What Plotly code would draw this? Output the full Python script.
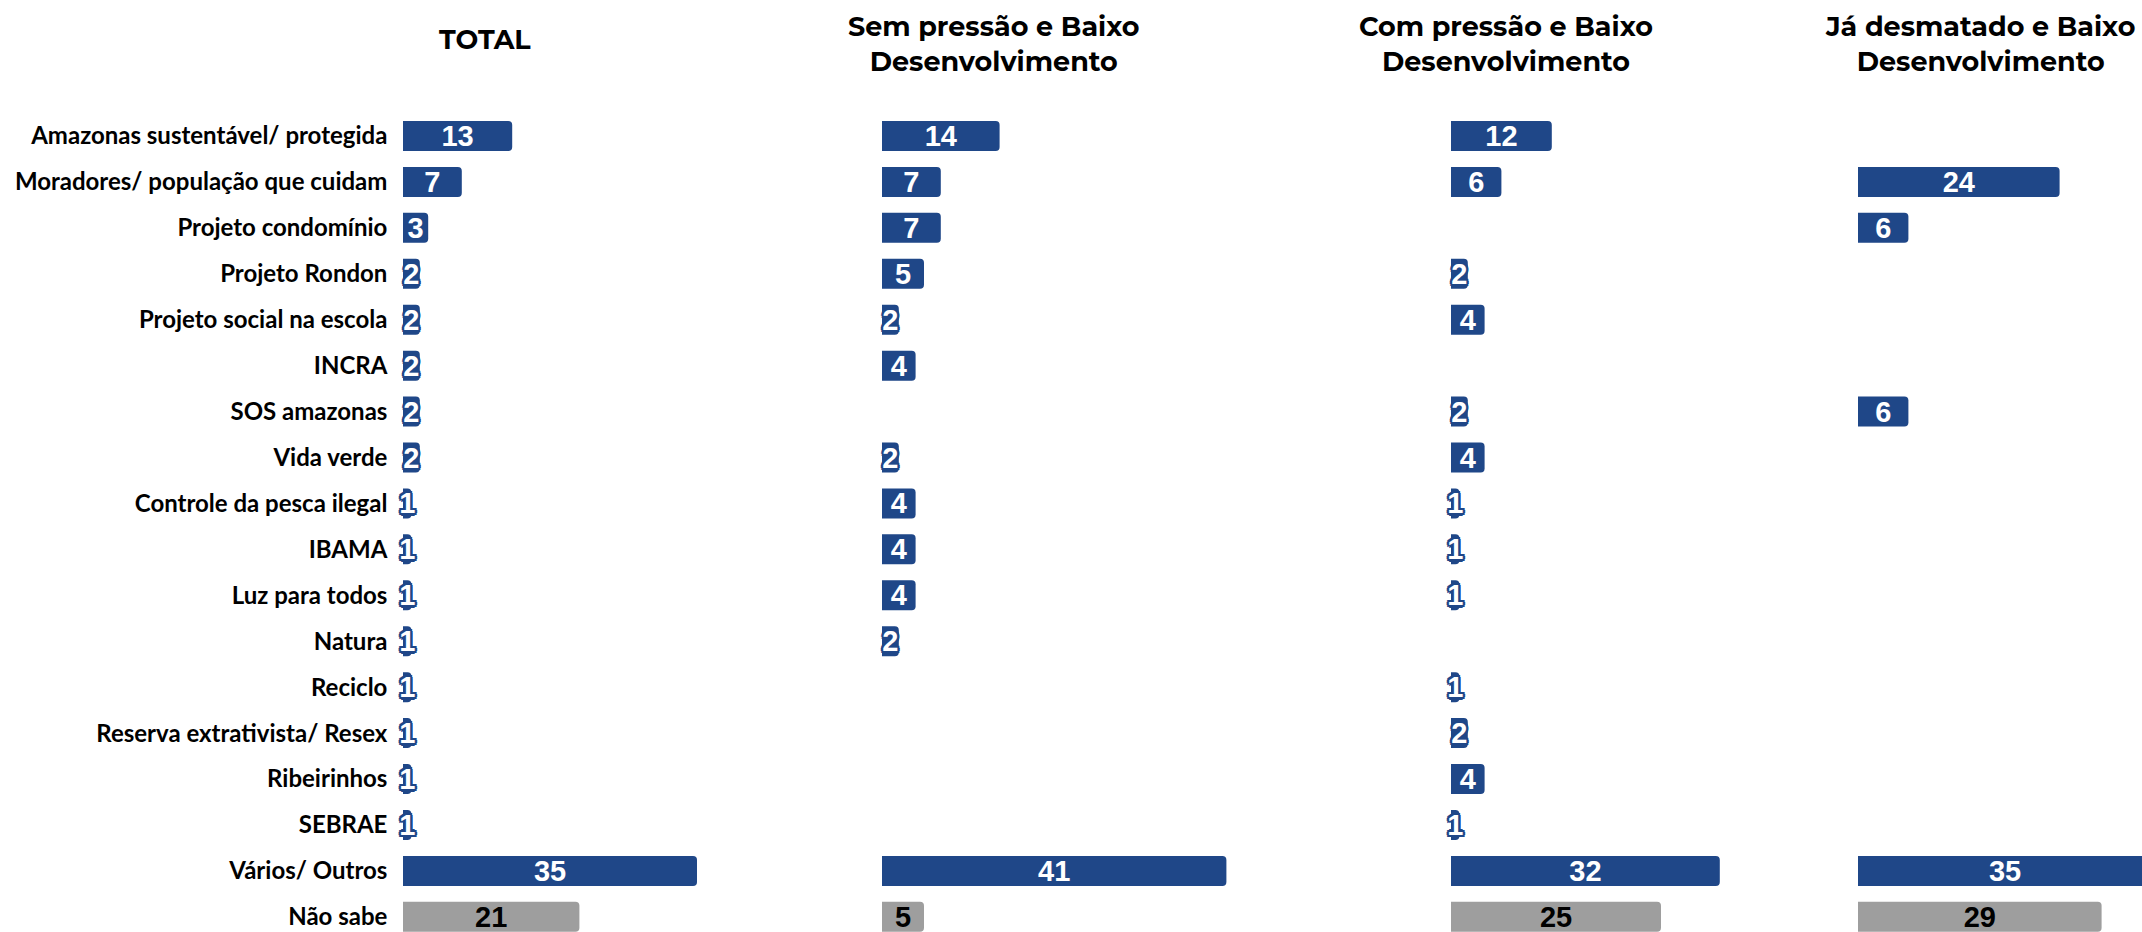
import plotly.graph_objects as go

# ---------------- data ----------------
categories = [
    "Amazonas sustentável/ protegida",
    "Moradores/ população que cuidam",
    "Projeto condomínio",
    "Projeto Rondon",
    "Projeto social na escola",
    "INCRA",
    "SOS amazonas",
    "Vida verde",
    "Controle da pesca ilegal",
    "IBAMA",
    "Luz para todos",
    "Natura",
    "Reciclo",
    "Reserva extrativista/ Resex",
    "Ribeirinhos",
    "SEBRAE",
    "Vários/ Outros",
    "Não sabe",
]

panel_titles = [
    "TOTAL",
    "Sem pressão e Baixo<br>Desenvolvimento",
    "Com pressão e Baixo<br>Desenvolvimento",
    "Já desmatado e Baixo<br>Desenvolvimento",
]

total = [13, 7, 3, 2, 2, 2, 2, 2, 1, 1, 1, 1, 1, 1, 1, 1, 35, 21]
sem_pressao = [14, 7, 7, 5, 2, 4, None, 2, 4, 4, 4, 2, None, None, None, None, 41, 5]
com_pressao = [12, 6, None, 2, 4, None, 2, 4, 1, 1, 1, None, 1, 2, 4, 1, 32, 25]
ja_desmatado = [None, 24, 6, None, None, None, 6, None, None, None, None, None, None, None, None, None, 35, 29]

series = [total, sem_pressao, com_pressao, ja_desmatado]

# ---------------- style / layout constants ----------------
W, H = 2142, 932
BLUE = "#1F4788"
GRAY = "#9E9E9E"
PX_PER_UNIT = 8.4
X0 = -1.5
panel_px = [(390.4, 860.0), (869.4, 1430.0), (1438.4, 1838.0), (1845.4, 2142.0)]
title_cx = [485, 994, 1506, 1980]
title_cy = [40, 44, 44, 44]
plot_top_px = 113
y_range = [17.33, -0.5]
NUM_FONT = "Liberation Sans, Arial"
NUM_SIZE = 29

outline = ", ".join(
    f"{BLUE} {dx}px {dy}px 0px"
    for dx, dy in [(2.5, 0), (-2.5, 0), (0, 2.5), (0, -2.5), (2, 2), (-2, -2), (2, -2), (-2, 2)]
)

fig = go.Figure()
n_main = len(categories) - 1

for i, vals in enumerate(series):
    xa = "x" if i == 0 else f"x{i+1}"
    ya = "y" if i == 0 else f"y{i+1}"
    fig.add_trace(go.Bar(
        y=categories[:n_main], x=vals[:n_main], orientation="h",
        xaxis=xa, yaxis=ya,
        marker=dict(color=BLUE, cornerradius=4, line=dict(width=0)),
        texttemplate="%{x}", textposition="inside", insidetextanchor="middle",
        textangle=0, constraintext="none",
        insidetextfont=dict(family=NUM_FONT, size=NUM_SIZE, color="white",
                            weight="bold", shadow=outline),
        hoverinfo="skip", showlegend=False,
    ))
    fig.add_trace(go.Bar(
        y=categories[n_main:], x=vals[n_main:], orientation="h",
        xaxis=xa, yaxis=ya,
        marker=dict(color=GRAY, cornerradius=4, line=dict(width=0)),
        texttemplate="%{x}", textposition="inside", insidetextanchor="middle",
        textangle=0, constraintext="none",
        insidetextfont=dict(family=NUM_FONT, size=NUM_SIZE, color="black",
                            weight="bold"),
        hoverinfo="skip", showlegend=False,
    ))

layout = dict(
    width=W, height=H, autosize=False,
    margin=dict(l=0, r=0, t=0, b=0, pad=0),
    paper_bgcolor="white", plot_bgcolor="white",
    barmode="overlay", bargap=0.347,
    uniformtext=dict(minsize=NUM_SIZE, mode="show"),
)

ydom = [0, (H - plot_top_px) / H]
for i, (p0, p1) in enumerate(panel_px):
    xk = "xaxis" if i == 0 else f"xaxis{i+1}"
    yk = "yaxis" if i == 0 else f"yaxis{i+1}"
    ya = "y" if i == 0 else f"y{i+1}"
    xa = "x" if i == 0 else f"x{i+1}"
    layout[xk] = dict(
        domain=[p0 / W, p1 / W], anchor=ya,
        range=[X0, X0 + (p1 - p0) / PX_PER_UNIT],
        showgrid=False, zeroline=False, showticklabels=False, showline=False,
        ticks="", fixedrange=True,
    )
    ycfg = dict(
        domain=ydom, anchor=xa, type="category",
        categoryorder="array", categoryarray=categories,
        range=y_range, showgrid=False, zeroline=False, showline=False,
        fixedrange=True, ticks="",
    )
    if i == 0:
        ycfg.update(showticklabels=True, ticklabelstandoff=2,
                    tickfont=dict(family="Lato", size=24, color="black", weight="bold"))
    else:
        ycfg.update(showticklabels=False)
    layout[yk] = ycfg

annotations = []
for t, cx, cy in zip(panel_titles, title_cx, title_cy):
    annotations.append(dict(
        text=t, x=cx / W, y=1 - cy / H, xref="paper", yref="paper",
        xanchor="center", yanchor="middle", showarrow=False, align="center",
        font=dict(family="Montserrat, Open Sans", size=27, color="black", weight="bold"),
    ))
layout["annotations"] = annotations

fig.update_layout(**layout)
fig.write_html("out.html", config={"displayModeBar": False},
               post_script="document.body.style.margin='0px';")
